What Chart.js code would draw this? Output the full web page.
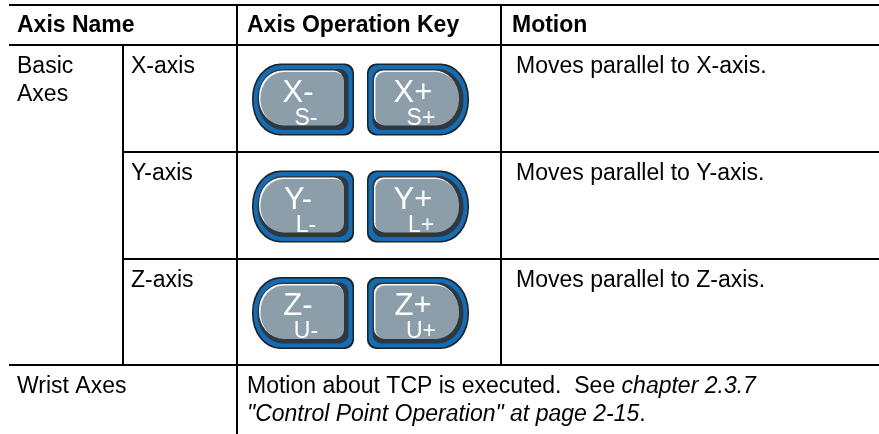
<!DOCTYPE html>
<html>
<head>
<meta charset="utf-8">
<script src="https://cdn.jsdelivr.net/npm/chart.js@4/dist/chart.umd.min.js"></script>
<style>
  html, body { margin: 0; padding: 0; background: #fff; }
  canvas { display: block; }
</style>
</head>
<body>
<canvas id="myChart" width="879" height="434"></canvas>
<script>
// table content
const headers = ["Axis Name", "Axis Operation Key", "Motion"];
const groupLabel = ["Basic", "Axes"];
const axisNames = ["X-axis", "Y-axis", "Z-axis"];
const minusKeys = ["X-", "Y-", "Z-"];
const minusSubs = ["S-", "L-", "U-"];
const plusKeys = ["X+", "Y+", "Z+"];
const plusSubs = ["S+", "L+", "U+"];
const motions = ["Moves parallel to X-axis.", "Moves parallel to Y-axis.", "Moves parallel to Z-axis."];
const wristName = "Wrist Axes";
const wristLines = [
  [["Motion about TCP is executed.  See ", false], ["chapter 2.3.7", true]],
  [["\"Control Point Operation\" at page 2-15", true], [".", false]],
];

// layout (in table units, mapped through the hidden scales)
const colX = [9, 123, 237, 501, 879];
const rowY = [5, 45, 152, 259, 365, 434];
const FONT = "'Liberation Sans', Arial, sans-serif";

function keyPath(ctx, x, y, w, h, minus) {
  const big = { x: Math.min(w * 0.28, 28), y: h / 2 - 1 };
  const small = 9;
  ctx.beginPath();
  ctx.roundRect(x, y, w, h, minus ? [big, small, small, big] : [small, big, big, small]);
}

function drawKey(ctx, cx, cy, minus, main, sub) {
  const w = 102, h = 72;
  const x = cx - w / 2, y = cy - h / 2;
  ctx.save();
  keyPath(ctx, x, y, w, h, minus); ctx.fillStyle = "#1e2326"; ctx.fill();
  keyPath(ctx, x + 1.5, y + 1.5, w - 3, h - 3, minus); ctx.fillStyle = "#136db6"; ctx.fill();
  keyPath(ctx, x + 5.5, y + 5.5, w - 11, h - 11, minus); ctx.fillStyle = "#2f383e"; ctx.fill();
  keyPath(ctx, x + 7, y + 7, w - 18, h - 18, minus); ctx.fillStyle = "#f4f6f7"; ctx.fill();
  keyPath(ctx, x + 8.5, y + 8.5, w - 18.5, h - 18.5, minus); ctx.fillStyle = "#8b9ea9"; ctx.fill();
  ctx.fillStyle = "#ffffff";
  ctx.textAlign = "center";
  ctx.textBaseline = "alphabetic";
  ctx.font = "31px " + FONT;
  ctx.fillText(main, cx - 5, y + 38);
  ctx.font = "23px " + FONT;
  ctx.fillText(sub, cx + 3, y + 61);
  ctx.restore();
}

const tablePlugin = {
  id: "tableDraw",
  afterDraw(chart) {
    const ctx = chart.ctx;
    const sx = (v) => chart.scales.x.getPixelForValue(v);
    const sy = (v) => chart.scales.y.getPixelForValue(v);
    ctx.save();
    ctx.strokeStyle = "#000";
    ctx.lineWidth = 2;
    const hline = (x0, x1, y) => { ctx.beginPath(); ctx.moveTo(sx(x0), sy(y)); ctx.lineTo(sx(x1), sy(y)); ctx.stroke(); };
    const vline = (x, y0, y1) => { ctx.beginPath(); ctx.moveTo(sx(x), sy(y0)); ctx.lineTo(sx(x), sy(y1)); ctx.stroke(); };

    hline(colX[0], colX[4], rowY[0]);
    hline(colX[0], colX[4], rowY[1]);
    hline(colX[1], colX[4], rowY[2]);
    hline(colX[1], colX[4], rowY[3]);
    hline(colX[0], colX[4], rowY[4]);
    vline(colX[1], rowY[1], rowY[4]);
    vline(colX[2], rowY[0], rowY[5]);
    vline(colX[3], rowY[0], rowY[4]);

    ctx.fillStyle = "#000";
    ctx.textBaseline = "alphabetic";
    ctx.textAlign = "left";
    // header
    ctx.font = "bold 23px " + FONT;
    ctx.fillText(headers[0], sx(17), sy(32));
    ctx.fillText(headers[1], sx(247), sy(32));
    ctx.fillText(headers[2], sx(512), sy(32));

    ctx.font = "23px " + FONT;
    groupLabel.forEach((t, i) => ctx.fillText(t, sx(17), sy(rowY[1] + 28 + i * 28)));
    axisNames.forEach((name, i) => {
      const top = rowY[i + 1], bottom = rowY[i + 2];
      ctx.font = "23px " + FONT;
      ctx.fillStyle = "#000";
      ctx.fillText(name, sx(131), sy(top + 28));
      ctx.fillText(motions[i], sx(516), sy(top + 28));
      const cy = sy((top + bottom) / 2 + 1);
      drawKey(ctx, sx(303), cy, true, minusKeys[i], minusSubs[i]);
      drawKey(ctx, sx(418), cy, false, plusKeys[i], plusSubs[i]);
    });

    ctx.fillStyle = "#000";
    ctx.textAlign = "left";
    ctx.font = "23px " + FONT;
    ctx.fillText(wristName, sx(17), sy(rowY[4] + 28));
    wristLines.forEach((parts, i) => {
      let x = sx(247);
      const y = sy(rowY[4] + 28 + i * 28);
      parts.forEach(([text, italic]) => {
        ctx.font = (italic ? "italic " : "") + "23px " + FONT;
        ctx.fillText(text, x, y);
        x += ctx.measureText(text).width;
      });
    });
    ctx.restore();
  },
};

const ctx = document.getElementById("myChart").getContext("2d");
new Chart(ctx, {
  type: "scatter",
  data: { datasets: [] },
  options: {
    responsive: false,
    animation: false,
    layout: { padding: 0 },
    plugins: { legend: { display: false }, tooltip: { enabled: false } },
    scales: {
      x: { type: "linear", min: 0, max: 879, display: false },
      y: { type: "linear", min: 0, max: 434, reverse: true, display: false },
    },
  },
  plugins: [tablePlugin],
});
</script>
</body>
</html>
